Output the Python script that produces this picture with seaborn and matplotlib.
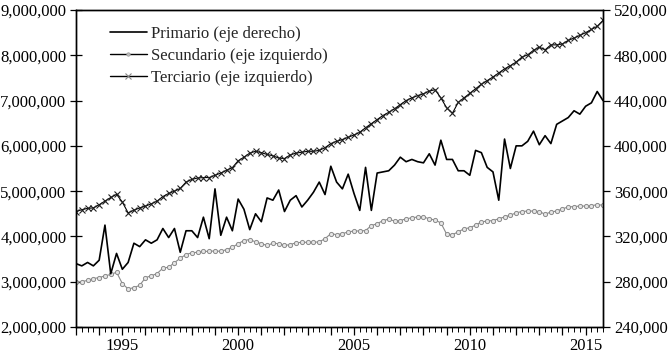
import numpy as np
import pandas as pd
import matplotlib
matplotlib.use("Agg")
import matplotlib.pyplot as plt
import seaborn as sns
from matplotlib.ticker import FuncFormatter, FixedLocator, MultipleLocator
from matplotlib.lines import Line2D

sns.set_theme(style="white")
plt.rcParams['font.family'] = ['Liberation Serif', 'DejaVu Serif']

# ---- data (quarterly, 1993Q1 - 2015Q4) ----
start_year = 1993

# Primario (eje derecho), thousands
primario = [296, 294, 297, 294, 299, 330, 287, 305, 291, 297,
            314, 311, 317, 314, 317, 327, 319, 327, 306, 325,
            325, 319, 337, 318, 362, 321, 337, 325, 353, 344,
            326, 340, 333, 354, 352, 361, 342, 352, 356, 346,
            352, 359, 368, 357, 382, 368, 362, 375, 358, 343,
            381, 343, 376, 377, 378, 383, 390, 386, 388, 386,
            385, 393, 383, 405, 388, 388, 378, 378, 374, 396,
            394, 381, 377, 352, 406, 380, 400, 400, 404, 413,
            401, 409, 402, 419, 422, 425, 431, 428, 435, 438,
            448, 440]

# Secundario (eje izquierdo), millions
secundario = [2.99, 3.00, 3.03, 3.07, 3.09, 3.13, 3.16, 3.21, 2.96, 2.84,
              2.87, 2.92, 3.09, 3.13, 3.18, 3.30, 3.32, 3.42, 3.52, 3.60,
              3.64, 3.65, 3.67, 3.67, 3.68, 3.67, 3.71, 3.76, 3.84, 3.91,
              3.93, 3.88, 3.84, 3.80, 3.85, 3.84, 3.80, 3.82, 3.86, 3.87,
              3.87, 3.87, 3.88, 3.95, 4.06, 4.04, 4.06, 4.10, 4.12, 4.12,
              4.13, 4.24, 4.28, 4.35, 4.38, 4.34, 4.35, 4.39, 4.41, 4.43,
              4.43, 4.39, 4.36, 4.30, 4.05, 4.04, 4.10, 4.17, 4.19, 4.25,
              4.32, 4.34, 4.35, 4.39, 4.43, 4.47, 4.52, 4.55, 4.56, 4.56,
              4.55, 4.49, 4.54, 4.56, 4.61, 4.65, 4.66, 4.67, 4.67, 4.68,
              4.70, 4.69]

# Terciario (eje izquierdo), millions
terciario = [4.55, 4.59, 4.62, 4.63, 4.70, 4.78, 4.86, 4.93, 4.76, 4.52,
             4.58, 4.63, 4.67, 4.72, 4.78, 4.88, 4.95, 5.00, 5.06, 5.20,
             5.26, 5.29, 5.30, 5.30, 5.35, 5.40, 5.46, 5.52, 5.67, 5.75,
             5.84, 5.88, 5.85, 5.81, 5.78, 5.73, 5.72, 5.80, 5.84, 5.86,
             5.88, 5.88, 5.90, 5.96, 6.05, 6.10, 6.14, 6.19, 6.24, 6.30,
             6.40, 6.49, 6.58, 6.67, 6.74, 6.82, 6.91, 7.00, 7.06, 7.11,
             7.15, 7.21, 7.24, 7.06, 6.84, 6.72, 6.96, 7.06, 7.16, 7.26,
             7.36, 7.44, 7.52, 7.61, 7.70, 7.77, 7.85, 7.96, 8.01, 8.11,
             8.18, 8.12, 8.23, 8.23, 8.25, 8.33, 8.38, 8.44, 8.50, 8.57,
             8.64, 8.77]

labels = ["Primario (eje derecho)", "Secundario (eje izquierdo)", "Terciario (eje izquierdo)"]
year_labels = [1995, 2000, 2005, 2010, 2015]
left_ticks = [2e6, 3e6, 4e6, 5e6, 6e6, 7e6, 8e6, 9e6]
right_ticks = [240000, 280000, 320000, 360000, 400000, 440000, 480000, 520000]

t = start_year + np.arange(len(primario)) / 4.0
df = pd.DataFrame({
    "t": t,
    "primario": np.array(primario) * 1000.0,
    "secundario": np.array(secundario) * 1e6,
    "terciario": np.array(terciario) * 1e6,
})

W, H = 668, 355
fig = plt.figure(figsize=(W / 100, H / 100), dpi=100)
x0, x1, y0, y1 = 76, 603, 10, 327
ax = fig.add_axes([x0 / W, 1 - y1 / H, (x1 - x0) / W, (y1 - y0) / H])
ax2 = ax.twinx()

sec_col = '#8a8a8a'
sns.lineplot(data=df, x="t", y="secundario", ax=ax, color=sec_col, lw=0.8,
             marker='o', markersize=3, markerfacecolor='#e6e6e6',
             markeredgecolor=sec_col, markeredgewidth=0.7, legend=False)
sns.lineplot(data=df, x="t", y="terciario", ax=ax, color='black', lw=0.8,
             marker='x', markersize=4.5, markeredgecolor='#202020',
             markeredgewidth=0.8, legend=False)
sns.lineplot(data=df, x="t", y="primario", ax=ax2, color='black', lw=1.2,
             legend=False)

ax.set_xlim(t[0], t[-1])
ax.set_ylim(left_ticks[0], left_ticks[-1])
ax2.set_ylim(right_ticks[0], right_ticks[-1])
ax.set_xlabel("")
ax.set_ylabel("")
ax2.set_ylabel("")

fmt = FuncFormatter(lambda v, p: f"{v:,.0f}")
ax.set_yticks(left_ticks)
ax.yaxis.set_major_formatter(fmt)
ax2.set_yticks(right_ticks)
ax2.yaxis.set_major_formatter(fmt)

ax.xaxis.set_major_locator(FixedLocator(list(range(start_year, 2016))))
ax.xaxis.set_major_formatter(FuncFormatter(lambda v, p: f"{int(round(v))}" if int(round(v)) in year_labels else ""))
ax.xaxis.set_minor_locator(MultipleLocator(0.25))

fs = 12
ax.tick_params(axis='x', which='major', direction='out', length=6, width=0.9,
               colors='black', labelsize=fs, pad=2, bottom=True)
ax.tick_params(axis='x', which='minor', direction='out', length=3.5, width=0.7,
               colors='black', bottom=True)
ax.tick_params(axis='y', which='major', direction='inout', length=8, width=0.9,
               colors='black', labelsize=fs, pad=3, left=True)
ax2.tick_params(axis='y', which='major', direction='out', length=5, width=0.9,
                colors='black', labelsize=fs, pad=3, right=True)

for a in (ax, ax2):
    for s in a.spines.values():
        s.set_visible(True)
        s.set_color('black')
        s.set_linewidth(1.0)
ax.grid(False)
ax2.grid(False)

handles = [
    Line2D([], [], color='black', lw=1.2),
    Line2D([], [], color='black', lw=1.0, marker='o', markersize=2.5,
           markerfacecolor='#bbbbbb', markeredgecolor='#999999', markeredgewidth=0.5),
    Line2D([], [], color='black', lw=1.0, marker='x', markersize=4,
           markeredgecolor='#888888', markeredgewidth=0.8),
]
ax2.legend(handles, labels, loc='upper left', bbox_to_anchor=(0.0645, 0.951),
           frameon=False, fontsize=fs, handlelength=2.2, handletextpad=0.25,
           labelspacing=0.38, borderaxespad=0, borderpad=0, numpoints=1)

fig.savefig("out.png", dpi=100)
